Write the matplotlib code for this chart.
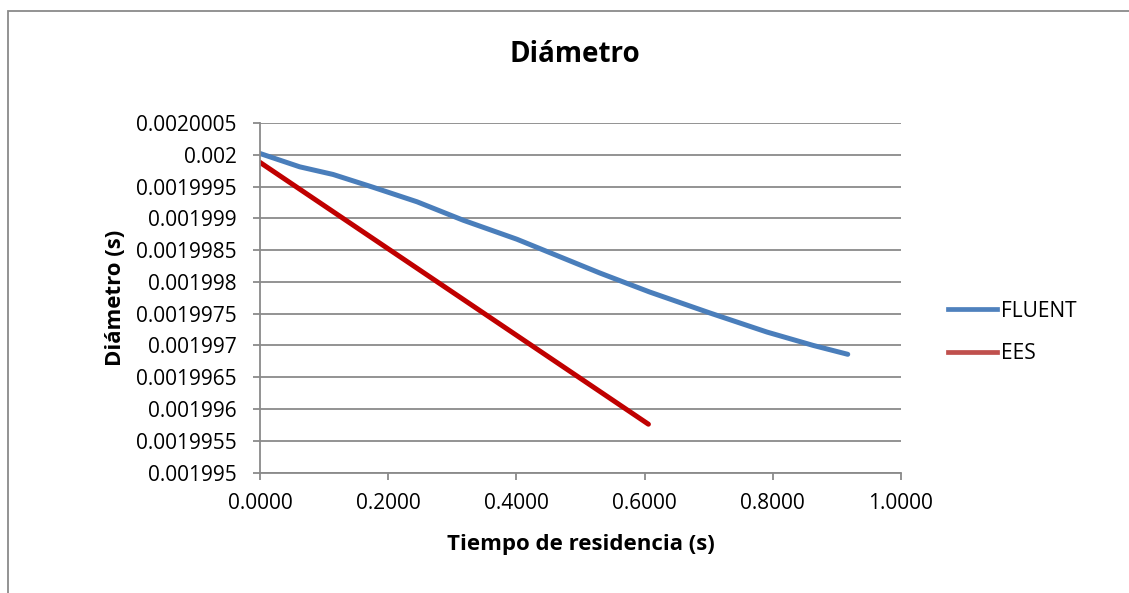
import matplotlib.pyplot as plt
from matplotlib.lines import Line2D
from matplotlib.patches import Rectangle

plt.rcParams['font.family'] = ['Open Sans', 'DejaVu Sans']

# FLUENT curve
t_fluent = [0.0, 0.062, 0.114, 0.176, 0.245, 0.317, 0.401, 0.530, 0.608, 0.702, 0.791, 0.863, 0.917]
d_fluent = [0.00200002, 0.00199981, 0.00199969, 0.00199949, 0.00199926, 0.00199897,
            0.00199867, 0.00199814, 0.00199784, 0.00199751, 0.00199721, 0.00199700, 0.00199686]

# EES straight line
t_ees = [0.0, 0.606]
d_ees = [0.00199988, 0.00199576]

x_ticks = [0.0, 0.2, 0.4, 0.6, 0.8, 1.0]
x_labels = ["0.0000", "0.2000", "0.4000", "0.6000", "0.8000", "1.0000"]
y_ticks = [0.001995, 0.0019955, 0.001996, 0.0019965, 0.001997, 0.0019975,
           0.001998, 0.0019985, 0.001999, 0.0019995, 0.002, 0.0020005]
y_labels = ["0.001995", "0.0019955", "0.001996", "0.0019965", "0.001997", "0.0019975",
            "0.001998", "0.0019985", "0.001999", "0.0019995", "0.002", "0.0020005"]

fig = plt.figure(figsize=(11.29, 5.93), dpi=100)
ax = fig.add_axes([0.2303, 0.2032, 0.798 - 0.2303, 0.7926 - 0.2032])

# outer chart border
fig.patches.append(Rectangle((8 / 1129, -0.1), 1.2, 1 - 11 / 593 + 0.1, transform=fig.transFigure,
                             fill=False, edgecolor='#8a8a8a', linewidth=1.3))

ax.plot(t_fluent, d_fluent, color='#4a7ebb', linewidth=3.6, solid_capstyle='round')
ax.plot(t_ees, d_ees, color='#c00000', linewidth=3.6, solid_capstyle='round')

ax.set_xlim(0, 1.0)
ax.set_ylim(0.001995, 0.0020005)
ax.set_xticks(x_ticks)
ax.set_xticklabels(x_labels)
ax.set_yticks(y_ticks)
ax.set_yticklabels(y_labels)
ax.tick_params(axis='both', labelsize=15, color='#8a8a8a', width=1.3, length=5, direction='out')
ax.tick_params(axis='x', pad=10)
ax.tick_params(axis='y', pad=12)

ax.grid(axis='y', color='#8a8a8a', linewidth=1.3)
ax.set_axisbelow(True)
for s in ['top', 'right']:
    ax.spines[s].set_visible(False)
for s in ['left', 'bottom']:
    ax.spines[s].set_color('#8a8a8a')
    ax.spines[s].set_linewidth(1.3)

fig.text(575 / 1129, 1 - 55 / 593, "Diámetro", fontsize=20, fontweight='bold', ha='center', va='center')
ax.set_xlabel("Tiempo de residencia (s)", fontsize=16, fontweight='bold', va='center')
ax.set_ylabel("Diámetro (s)", fontsize=16, fontweight='bold', va='center')
ax.xaxis.set_label_coords(0.5, -0.207)
ax.yaxis.set_label_coords(-0.226, 0.5)

handles = [Line2D([0], [0], color='#4f81bd', linewidth=3.4),
           Line2D([0], [0], color='#c0504d', linewidth=3.4)]
fig.legend(handles, ["FLUENT", "EES"], loc='center left', bbox_to_anchor=(948 / 1129, 1 - 332.5 / 593),
           frameon=False, fontsize=15, handlelength=2.35, handletextpad=0.2, labelspacing=1.05,
           borderpad=0, borderaxespad=0)

fig.savefig("out.png", dpi=100)
